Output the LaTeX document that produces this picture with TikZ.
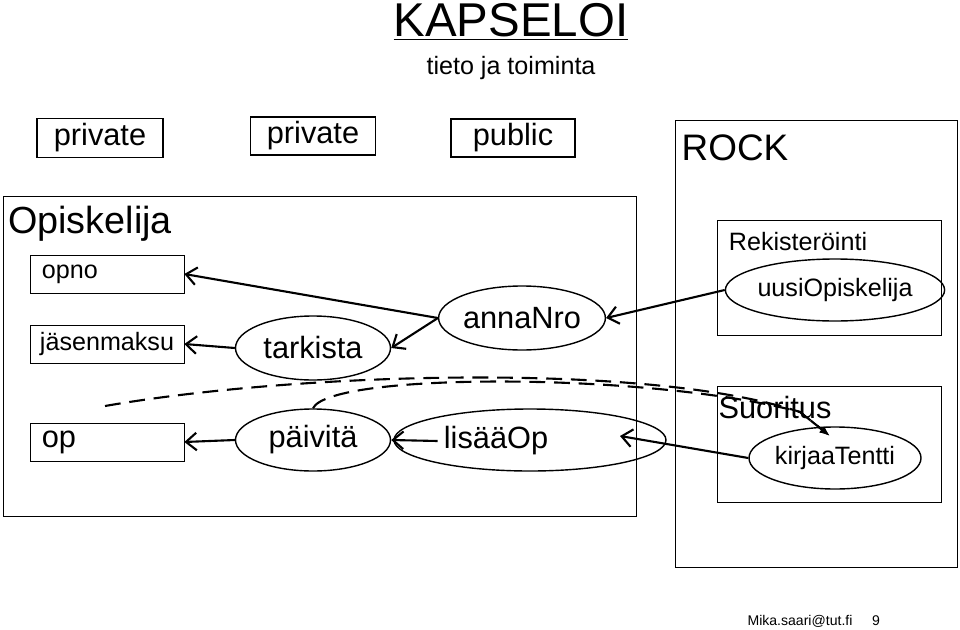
\documentclass[tikz,border=0pt]{standalone}
\usepackage{fontspec}
\setmainfont{Liberation Sans}
\usetikzlibrary{shapes, arrows.meta, positioning}
\newdimen\pxu \pxu=0.02cm
\begin{document}
\begin{tikzpicture}
  [
    x=0.02cm, y=-0.02cm,
    Box/.style={draw=black, thick, inner sep=0pt},
    Frame/.style={draw=black, thin, inner sep=0pt},
    Oval/.style={ellipse, draw=black, thick, inner sep=0pt},
    Big/.style={font=\fontsize{17.5}{17.5}\selectfont},
    Small/.style={font=\fontsize{14.3}{14.3}\selectfont},
    Arr/.style={-{Straight Barb[length=6pt,width=10pt]}, draw, very thick},
    Dash/.style={-{Latex[length=6pt]}, draw, very thick, dash pattern=on 9pt off 5pt}
  ]
  \useasboundingbox (0,0) rectangle (960,629);
  % Title
  \node[font=\fontsize{27}{27}\selectfont, anchor=base] (title) at (511,36) {\underline{KAPSELOI}};
  \node[Small] (sub) at (511,68) {tieto ja toiminta};
  \node[Box, Big, minimum width=126\pxu, minimum height=39\pxu] (priv1) at (100,138) {private};
  \node[Box, Big, minimum width=125\pxu, minimum height=38\pxu] (priv2) at (313,136) {private};
  \node[Box, Big, minimum width=124\pxu, minimum height=38\pxu] (pub) at (513,138) {public};

  % Frames
  \node[Frame, minimum width=282\pxu, minimum height=447\pxu] (rock) at (816,344) {};
  \node[font=\fontsize{21}{21}\selectfont] at (735,148) {ROCK};
  \node[Frame, minimum width=633\pxu, minimum height=320\pxu] (opisk) at (320,356) {};
  \node[font=\fontsize{21.5}{21.5}\selectfont] at (90,224) {Opiskelija};
  \node[Frame, minimum width=224\pxu, minimum height=115\pxu] (rek) at (829,278) {};
  \node[Small] at (798,242) {Rekisteröinti};
  \node[Frame, minimum width=224\pxu, minimum height=116\pxu] (suor) at (829,444) {};
  \node[Big] at (775,408) {Suoritus};

  % Nodes
  \node[Frame, minimum width=154\pxu, minimum height=38\pxu] (opno) at (107,274) {};
  \node[Small, anchor=west] at ([xshift=6\pxu]opno.west) {opno};
  \node[Frame, Small, minimum width=154\pxu, minimum height=38\pxu] (jasen) at (107,344) {jäsenmaksu};
  \node[Frame, minimum width=154\pxu, minimum height=38\pxu] (op) at (107,442) {};
  \node[Big, anchor=west] at ([xshift=6\pxu]op.west) {op};
  \node[Oval, Big, minimum width=155\pxu, minimum height=64\pxu] (tarkista) at (313,348) {tarkista};
  \node[Oval, Big, minimum width=155\pxu, minimum height=62\pxu] (paivita) at (313,440) {päivitä};
  \node[Oval, Big, minimum width=160\pxu, minimum height=64\pxu] (annanro) at (522,318) {annaNro};
  \node[Oval, minimum width=272\pxu, minimum height=62\pxu] (lisaaop) at (530,440) {};
  \node[Big] (lisaaopt) at (496,441) {lisääOp};
  \node[Oval, Small, minimum width=182\pxu, minimum height=62\pxu] (uusi) at (835,290) {uusiOpiskelija};
  \node[Oval, Small, minimum width=172\pxu, minimum height=62\pxu] (kirjaa) at (835,458) {kirjaaTentti};
  \coordinate (lisin) at (620,436);
  \coordinate (dstart) at (105,406);
  \coordinate (dend) at (830,436);

  % Lines
  \path[Arr] (annanro.west) -- (opno.east);
  \path[Arr] (annanro.west) -- (tarkista.east);
  \path[Arr] (tarkista.west) -- (jasen.east);
  \path[Arr] (paivita.west) -- (op.east);
  \path[Arr] (lisaaopt.west) -- (paivita.east);
  \path[Arr] (uusi.west) -- (annanro.east);
  \path[Arr] (kirjaa.west) -- (lisin);
  \path[Dash] (dstart) .. controls (300,372) and (650,362) .. (800,412) -- (dend);
  \path[Dash] (paivita.north) .. controls (330,372) and (650,372) .. (800,412) -- (dend);

  \node[font=\rmfamily\fontsize{8}{8}\selectfont] at (800,621) {Mika.saari@tut.fi};
  \node[font=\rmfamily\fontsize{8}{8}\selectfont] at (876,621) {9};
\end{tikzpicture}
\end{document}
